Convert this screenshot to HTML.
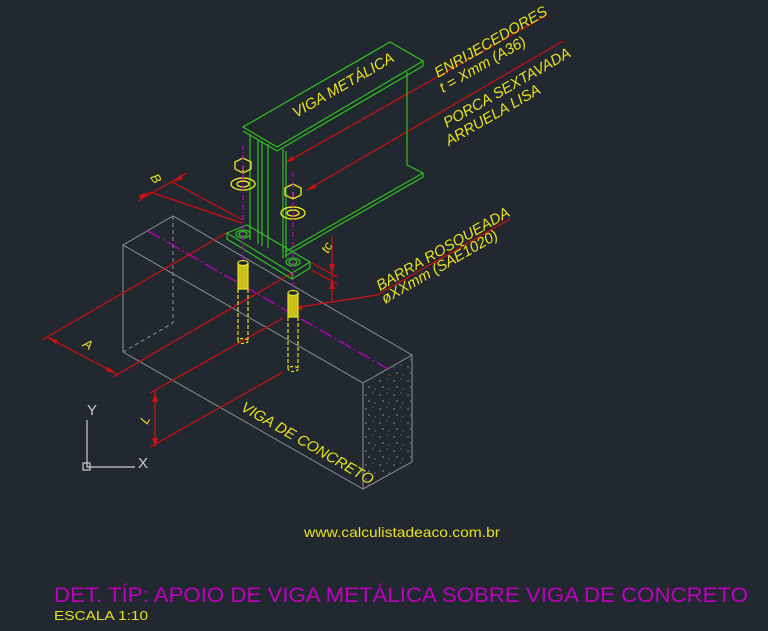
<!DOCTYPE html>
<html><head><meta charset="utf-8"><style>
html,body{margin:0;padding:0;background:#212830;}
svg{display:block}
text{font-family:"Liberation Sans Narrow","Liberation Sans",sans-serif;}
</style></head><body>
<svg width="768" height="631" viewBox="0 0 768 631" xmlns="http://www.w3.org/2000/svg">
<rect width="768" height="631" fill="#212830"/>
<defs>
<pattern id="spk" width="14" height="14" patternUnits="userSpaceOnUse">
<circle cx="2" cy="3" r="0.6" fill="#ccc"/><circle cx="9" cy="1" r="0.5" fill="#aaa"/><circle cx="5" cy="9" r="0.6" fill="#ddd"/><circle cx="11" cy="11" r="0.5" fill="#bbb"/>
</pattern>
</defs>
<!-- concrete beam -->
<g stroke="#8a8f94" stroke-width="1" fill="none">
<polygon points="123,245 363,383 363,489 123,352"/>
<polyline points="123,245 173,216 412,355 363,383"/>
<polyline points="412,355 412,462 363,489"/>
<polyline points="173,216 173,323 123,352" stroke-dasharray="4,3"/>
</g>
<polygon points="365,384 411,357 411,461 365,487" fill="url(#spk)"/>
<line x1="148" y1="231" x2="388" y2="369" stroke="#c000c0" stroke-width="1.3" stroke-dasharray="14,3,2,3"/>
<!-- dimensions red -->
<g stroke="#d01010" stroke-width="1.2" fill="none">
<line x1="47" y1="337" x2="117" y2="374"/>
<line x1="42" y1="340" x2="228" y2="232"/>
<line x1="113" y1="377" x2="292" y2="273"/>
<line x1="138" y1="201" x2="187" y2="173"/>
<line x1="150" y1="192" x2="242" y2="223"/>
<line x1="172" y1="182" x2="243" y2="220"/>
<line x1="332" y1="236" x2="332" y2="302"/>
<line x1="312" y1="263" x2="337" y2="277"/>
<line x1="312" y1="270" x2="337" y2="284"/>
<line x1="155" y1="391" x2="155" y2="447"/>
<line x1="150" y1="393" x2="283" y2="318"/>
<line x1="150" y1="447" x2="283" y2="372"/>
<line x1="285" y1="163" x2="547" y2="15"/>
<line x1="307" y1="190" x2="563" y2="41"/>
<polyline points="293,308 377,295 510,219"/>
</g>
<g fill="#d01010">
<polygon points="47,337 58,340 56,344"/><polygon points="117,374 106,371 108,367"/>
<polygon points="150,192 141,199 139,195"/><polygon points="172,182 181,175 183,179"/>
<polygon points="285,163 292,156 294,160"/><polygon points="307,190 314,184 316,188"/>
<polygon points="293,308 302,305 302,310"/>
<polygon points="332,273 329,264 335,264"/><polygon points="332,280 329,289 335,289"/>
<polygon points="155,393 152,402 158,402"/><polygon points="155,447 152,438 158,438"/>
</g>
<!-- steel beam green -->
<g stroke="#30c020" stroke-width="1.2" fill="none">
<polygon points="243,127 390,42 423,61 277,147"/>
<line x1="243" y1="131" x2="277" y2="151"/>
<line x1="277" y1="151" x2="423" y2="66"/>
<line x1="423" y1="61" x2="423" y2="66"/>
<line x1="407" y1="72" x2="407" y2="165"/>
<polyline points="407,165 423,173 423,177 285,256"/>
<line x1="285" y1="252" x2="423" y2="173"/>
<line x1="250" y1="134" x2="250" y2="240"/>
<line x1="258" y1="139" x2="258" y2="244"/>
<line x1="262" y1="141" x2="262" y2="246"/>
<line x1="268" y1="144" x2="268" y2="248"/>
<line x1="283" y1="149" x2="283" y2="258"/>
<line x1="286" y1="151" x2="286" y2="258"/>
<polygon points="227,233 247,225 310,262 292,273"/>
<polyline points="227,233 227,239 292,279 310,268 310,262"/>
<line x1="292" y1="273" x2="292" y2="279"/>
<ellipse cx="243" cy="234" rx="7" ry="4"/><ellipse cx="243" cy="234" rx="4" ry="2.5"/>
<ellipse cx="293" cy="262" rx="7" ry="4"/><ellipse cx="293" cy="262" rx="4" ry="2.5"/>
</g>
<!-- bolts yellow -->
<g stroke="#e8e020" stroke-width="1.4" fill="none">
<path d="M235,162 l8,-4 8,4 v7 l-8,4 -8,-4z"/><line x1="243" y1="166" x2="243" y2="173"/>
<ellipse cx="243" cy="184" rx="12" ry="6"/><ellipse cx="243" cy="184" rx="6" ry="3"/>
<path d="M285,188 l8,-4 8,4 v7 l-8,4 -8,-4z"/><line x1="293" y1="192" x2="293" y2="199"/>
<ellipse cx="293" cy="213" rx="12" ry="6"/><ellipse cx="293" cy="213" rx="6" ry="3"/>
</g>
<g stroke="#e8e020" stroke-width="1.2">
<rect x="238" y="263" width="10" height="26" fill="#c8c018"/>
<ellipse cx="243" cy="263" rx="5" ry="2.5" fill="#212830"/>
<line x1="238" y1="289" x2="238" y2="340" stroke-dasharray="4,2"/>
<line x1="248" y1="289" x2="248" y2="340" stroke-dasharray="4,2"/>
<ellipse cx="243" cy="341" rx="5" ry="2.5" fill="none" stroke-dasharray="3,2"/>
<rect x="288" y="293" width="10" height="24" fill="#c8c018"/>
<ellipse cx="293" cy="293" rx="5" ry="2.5" fill="#212830"/>
<line x1="288" y1="317" x2="288" y2="368" stroke-dasharray="4,2"/>
<line x1="298" y1="317" x2="298" y2="368" stroke-dasharray="4,2"/>
<ellipse cx="293" cy="369" rx="5" ry="2.5" fill="none" stroke-dasharray="3,2"/>
</g>
<g stroke="#c000c0" stroke-width="1.2" stroke-dasharray="5,2,1,2">
<line x1="243" y1="145" x2="243" y2="262"/>
<line x1="293" y1="172" x2="293" y2="292"/>
</g>
<!-- labels -->
<g fill="#e8e020" font-style="italic">
<text transform="translate(296,118) rotate(-30)" font-size="15">VIGA METÁLICA</text>
<text transform="translate(438,78) rotate(-30)" font-size="15">ENRIJECEDORES</text>
<text transform="translate(443,93) rotate(-30)" font-size="15">t = Xmm (A36)</text>
<text transform="translate(447,128) rotate(-30)" font-size="15">PORCA SEXTAVADA</text>
<text transform="translate(449,146) rotate(-30)" font-size="15">ARRUELA LISA</text>
<text transform="translate(380,291) rotate(-30)" font-size="15">BARRA ROSQUEADA</text>
<text transform="translate(385,304) rotate(-30)" font-size="15">øXXmm (SAE1020)</text>
<text transform="translate(240,410) rotate(30)" font-size="15">VIGA DE CONCRETO</text>
<text transform="translate(82,346) rotate(30)" font-size="13">A</text>
<text transform="translate(150,177) rotate(60)" font-size="13">B</text>
<text transform="translate(328,254) rotate(-60)" font-size="13">tc</text>
<text transform="translate(147,425) rotate(-60)" font-size="13">L</text>
</g>
<!-- UCS -->
<g stroke="#ccc" stroke-width="1.2" fill="none">
<polyline points="87,420 87,467 135,467"/>
<rect x="83" y="463" width="7" height="7"/>
</g>
<text x="87" y="415" fill="#ccc" font-size="15">Y</text>
<text x="138" y="468" fill="#ccc" font-size="15">X</text>
<!-- footer -->
<text x="304" y="537" fill="#e8e020" font-size="14" textLength="196" lengthAdjust="spacingAndGlyphs">www.calculistadeaco.com.br</text>
<text x="54" y="602" fill="#c000c0" font-size="21" textLength="694" lengthAdjust="spacingAndGlyphs">DET. TÍP: APOIO DE VIGA METÁLICA SOBRE VIGA DE CONCRETO</text>
<text x="54" y="620" fill="#e8e020" font-size="13" textLength="94" lengthAdjust="spacingAndGlyphs">ESCALA 1:10</text>
</svg>
</body></html>
